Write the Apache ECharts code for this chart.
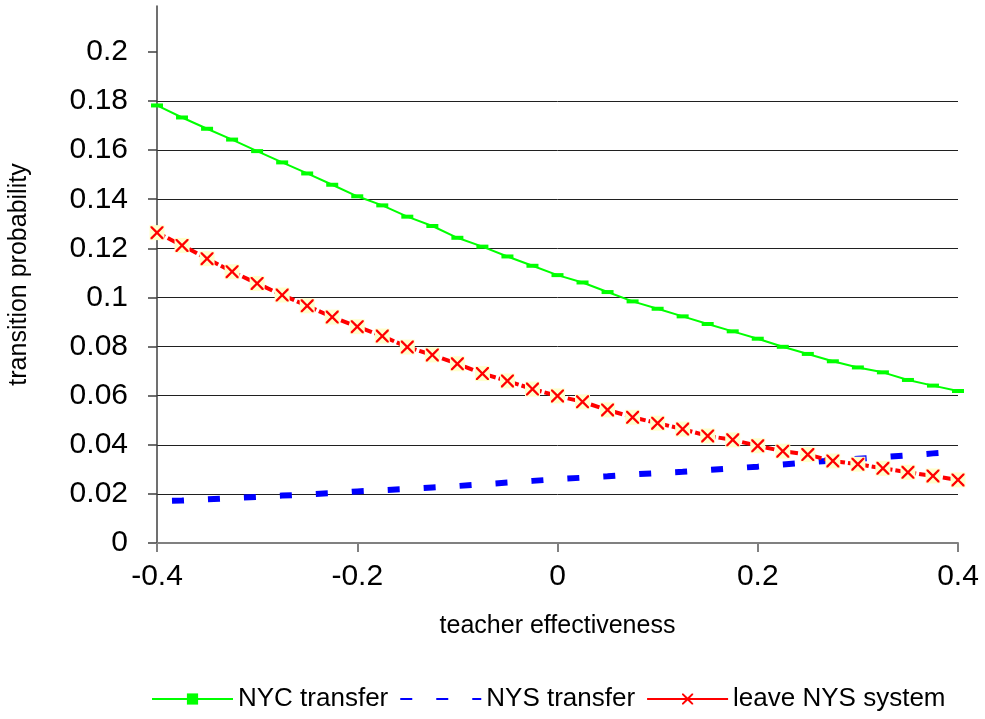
<!DOCTYPE html>
<html>
<head>
<meta charset="utf-8">
<script src="https://cdn.jsdelivr.net/npm/echarts@6/dist/echarts.min.js"></script>
<style>
html,body{margin:0;padding:0;background:#fff;}
#chart{width:985px;height:719px;}
</style>
</head>
<body>
<div id="chart"></div>
<script>
const xValues = [-0.4,-0.375,-0.35,-0.325,-0.3,-0.275,-0.25,-0.225,-0.2,-0.175,-0.15,-0.125,-0.1,-0.075,-0.05,-0.025,0,0.025,0.05,0.075,0.1,0.125,0.15,0.175,0.2,0.225,0.25,0.275,0.3,0.325,0.35,0.375,0.4];
const nycTransfer = [0.1782,0.1733,0.1687,0.1643,0.1596,0.1550,0.1505,0.1459,0.1412,0.1375,0.1329,0.1291,0.1243,0.1207,0.1167,0.1129,0.1091,0.1061,0.1022,0.0984,0.0954,0.0923,0.0892,0.0862,0.0832,0.0799,0.0770,0.0740,0.0715,0.0695,0.0664,0.0641,0.0619];
const nysTransfer = [0.0170,0.0173,0.0178,0.0183,0.0188,0.0193,0.0198,0.0203,0.0210,0.0215,0.0220,0.0226,0.0232,0.0239,0.0246,0.0253,0.0260,0.0266,0.0272,0.0279,0.0285,0.0290,0.0297,0.0304,0.0311,0.0320,0.0328,0.0336,0.0343,0.0350,0.0357,0.0365,0.0372];
const leaveNYS = [0.1264,0.1212,0.1158,0.1105,0.1057,0.1010,0.0966,0.0920,0.0881,0.0843,0.0798,0.0766,0.0730,0.0690,0.0660,0.0627,0.0599,0.0575,0.0542,0.0512,0.0488,0.0464,0.0436,0.0420,0.0396,0.0374,0.0360,0.0334,0.0321,0.0304,0.0288,0.0273,0.0257];
const xTicks = [-0.4,-0.2,0,0.2,0.4];
const yTicks = [0,0.02,0.04,0.06,0.08,0.1,0.12,0.14,0.16,0.18,0.2];
const seriesNames = ['NYC transfer','NYS transfer','leave NYS system'];

const pairs = arr => xValues.map((x,i)=>[x,arr[i]]);
const FONT = 'Liberation Sans, Arial, sans-serif';
const X_PATH = 'path://M0,0L2.5,0L10,7.5L17.5,0L20,0L20,2.5L12.5,10L20,17.5L20,20L17.5,20L10,12.5L2.5,20L0,20L0,17.5L7.5,10L0,2.5Z';

const chart = echarts.init(document.getElementById('chart'), null, {renderer:'canvas'});
chart.setOption({
  animation:false,
  backgroundColor:'#ffffff',
  textStyle:{fontFamily:FONT},
  grid:{left:157,right:27,top:6,bottom:176,containLabel:false,outerBoundsMode:'none'},
  xAxis:{
    type:'value',min:-0.4,max:0.4,interval:0.2,
    name:'teacher effectiveness',nameLocation:'middle',nameGap:71,
    nameTextStyle:{fontSize:25,color:'#000',fontFamily:FONT},
    axisLine:{show:true,onZero:false,lineStyle:{color:'#808080',width:2}},
    axisTick:{show:true,inside:false,length:9,customValues:xTicks,lineStyle:{color:'#808080',width:2}},
    axisLabel:{fontSize:30,color:'#000',margin:19,fontFamily:FONT,customValues:xTicks,
      formatter:v=>String(Math.round(v*10)/10)},
    splitLine:{show:false}
  },
  yAxis:{
    type:'value',min:0,max:0.2187,interval:0.02,
    name:'transition probability',nameLocation:'middle',nameGap:125,
    nameTextStyle:{fontSize:25,color:'#000',fontFamily:FONT},
    axisLine:{show:true,onZero:false,lineStyle:{color:'#404040',width:1.5}},
    axisTick:{show:true,inside:false,length:9,customValues:yTicks,lineStyle:{color:'#404040',width:1.5}},
    axisLabel:{fontSize:30,color:'#000',margin:29,fontFamily:FONT,customValues:yTicks,
      formatter:v=>String(Math.round(v*100)/100)},
    splitLine:{show:true,showMinLine:false,showMaxLine:false,lineStyle:{color:'#202020',width:1}}
  },
  legend:{
    left:151,top:686,padding:0,itemWidth:81,itemHeight:14,itemGap:11,
    textStyle:{fontSize:26,color:'#000',fontFamily:FONT},
    data:[
      {name:seriesNames[0]},
      {name:seriesNames[1],itemStyle:{opacity:0},lineStyle:{dashOffset:0}},
      {name:seriesNames[2],lineStyle:{type:'solid'}}
    ]
  },
  series:[
    {name:seriesNames[1],type:'line',data:pairs(nysTransfer),symbol:'rect',symbolSize:0,showSymbol:false,
     itemStyle:{color:'#0000ff'},lineStyle:{color:'#0000ff',width:6,type:[12,24],dashOffset:21,cap:'butt'},z:2},
    {name:seriesNames[0],type:'line',data:pairs(nycTransfer),symbol:'rect',symbolSize:[12,4],showAllSymbol:true,
     itemStyle:{color:'#00ff00'},lineStyle:{color:'#00ff00',width:2},z:3},
    {name:seriesNames[2],type:'line',data:pairs(leaveNYS),symbol:X_PATH,symbolSize:13,showAllSymbol:true,
     itemStyle:{color:'#ff0000'},lineStyle:{color:'#ff0000',width:4,type:[9,3]},z:4},
    {name:'_bg',type:'line',data:pairs(leaveNYS),symbol:'rect',symbolSize:15,showAllSymbol:true,silent:true,
     itemStyle:{color:'#ffffcc'},lineStyle:{opacity:0,width:0},z:5},
    {name:'_x',type:'line',data:pairs(leaveNYS),symbol:X_PATH,symbolSize:13,showAllSymbol:true,silent:true,
     itemStyle:{color:'#ff0000'},lineStyle:{opacity:0,width:0},z:6}
  ]
});
</script>
</body>
</html>
